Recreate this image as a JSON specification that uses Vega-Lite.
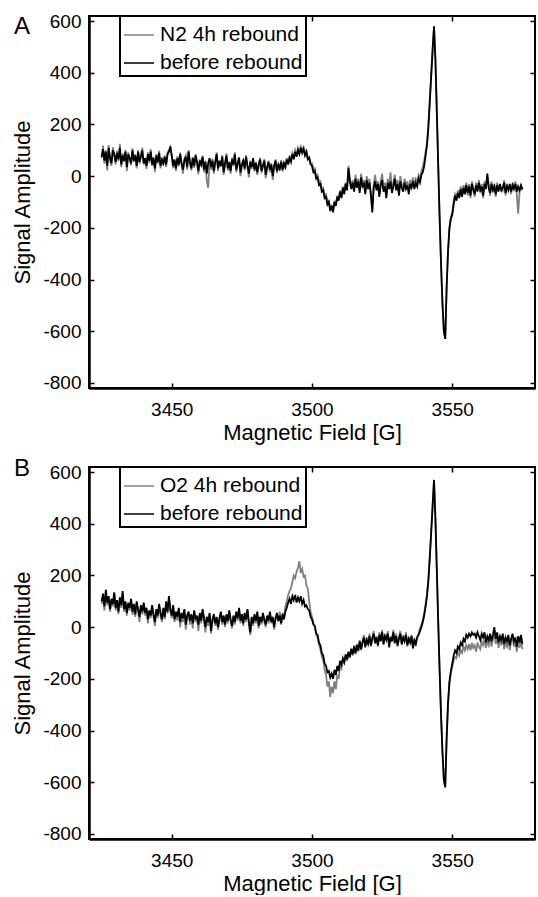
{
"$schema":"https://vega.github.io/schema/vega-lite/v6.json",
"autosize":{"type":"pad"},
"padding":{"left":10,"top":11,"right":1,"bottom":0},
"background":"white",
"spacing":12,
"config":{
 "font":"Liberation Sans",
 "view":{"stroke":"black","strokeWidth":2},
 "axis":{"labelFont":"Liberation Sans","titleFont":"Liberation Sans","labelColor":"black","titleColor":"black","titleFontWeight":"normal","labelFontSize":19,"titleFontSize":22,"tickColor":"black","tickWidth":1.5,"tickSize":-5,"domainColor":"black","domainWidth":2,"grid":false},
 "legend":{"strokeWidth":2},
 "title":{"font":"Liberation Sans","fontWeight":"normal","color":"black"}
},
"datasets":{
"a":[
{"x":3425,"n":70,"b":75},{"x":3425.5,"n":118,"b":105},{"x":3426,"n":48,"b":60},{"x":3426.5,"n":100,"b":95},{"x":3427,"n":22,"b":40},{"x":3427.5,"n":120,"b":110},{"x":3428,"n":60,"b":70},{"x":3428.5,"n":40,"b":50},{"x":3429,"n":112,"b":100},{"x":3429.5,"n":80,"b":85},
{"x":3430,"n":45,"b":55},{"x":3430.5,"n":98,"b":90},{"x":3431,"n":58,"b":65},{"x":3431.5,"n":125,"b":110},{"x":3432,"n":35,"b":45},{"x":3432.5,"n":88,"b":80},{"x":3433,"n":55,"b":60},{"x":3433.5,"n":102,"b":95},{"x":3434,"n":20,"b":35},{"x":3434.5,"n":92,"b":85},
{"x":3435,"n":65,"b":70},{"x":3435.5,"n":42,"b":50},{"x":3436,"n":108,"b":100},{"x":3436.5,"n":55,"b":60},{"x":3437,"n":85,"b":80},{"x":3437.5,"n":30,"b":40},{"x":3438,"n":100,"b":95},{"x":3438.5,"n":48,"b":55},{"x":3439,"n":82,"b":75},{"x":3439.5,"n":110,"b":100},
{"x":3440,"n":45,"b":50},{"x":3440.5,"n":60,"b":70},{"x":3441,"n":28,"b":40},{"x":3441.5,"n":92,"b":85},{"x":3442,"n":50,"b":60},{"x":3442.5,"n":105,"b":95},{"x":3443,"n":40,"b":45},{"x":3443.5,"n":75,"b":70},{"x":3444,"n":15,"b":30},{"x":3444.5,"n":86,"b":80},
{"x":3445,"n":48,"b":55},{"x":3445.5,"n":98,"b":90},{"x":3446,"n":30,"b":40},{"x":3446.5,"n":70,"b":65},{"x":3447,"n":42,"b":50},{"x":3447.5,"n":80,"b":75},{"x":3448,"n":35,"b":45},{"x":3448.5,"n":92,"b":85},{"x":3449,"n":100,"b":95},{"x":3449.5,"n":112,"b":115},
{"x":3450,"n":75,"b":80},{"x":3450.5,"n":30,"b":40},{"x":3451,"n":58,"b":65},{"x":3451.5,"n":20,"b":30},{"x":3452,"n":78,"b":70},{"x":3452.5,"n":38,"b":45},{"x":3453,"n":92,"b":85},{"x":3453.5,"n":45,"b":50},{"x":3454,"n":10,"b":25},{"x":3454.5,"n":68,"b":60},
{"x":3455,"n":80,"b":75},{"x":3455.5,"n":25,"b":35},{"x":3456,"n":100,"b":95},{"x":3456.5,"n":48,"b":55},{"x":3457,"n":22,"b":30},{"x":3457.5,"n":75,"b":70},{"x":3458,"n":32,"b":40},{"x":3458.5,"n":85,"b":80},{"x":3459,"n":50,"b":55},{"x":3459.5,"n":8,"b":20},
{"x":3460,"n":65,"b":60},{"x":3460.5,"n":38,"b":45},{"x":3461,"n":80,"b":75},{"x":3461.5,"n":15,"b":25},{"x":3462,"n":60,"b":55},{"x":3462.5,"n":-20,"b":10},{"x":3463,"n":-45,"b":50},{"x":3463.5,"n":65,"b":70},{"x":3464,"n":25,"b":35},{"x":3464.5,"n":68,"b":60},
{"x":3465,"n":10,"b":20},{"x":3465.5,"n":50,"b":55},{"x":3466,"n":92,"b":85},{"x":3466.5,"n":20,"b":30},{"x":3467,"n":55,"b":60},{"x":3467.5,"n":35,"b":40},{"x":3468,"n":82,"b":75},{"x":3468.5,"n":5,"b":15},{"x":3469,"n":45,"b":50},{"x":3469.5,"n":88,"b":80},
{"x":3470,"n":22,"b":30},{"x":3470.5,"n":48,"b":55},{"x":3471,"n":10,"b":20},{"x":3471.5,"n":72,"b":65},{"x":3472,"n":40,"b":45},{"x":3472.5,"n":92,"b":85},{"x":3473,"n":15,"b":25},{"x":3473.5,"n":45,"b":50},{"x":3474,"n":75,"b":70},{"x":3474.5,"n":0,"b":15},
{"x":3475,"n":38,"b":45},{"x":3475.5,"n":66,"b":60},{"x":3476,"n":22,"b":30},{"x":3476.5,"n":82,"b":75},{"x":3477,"n":35,"b":40},{"x":3477.5,"n":-5,"b":10},{"x":3478,"n":60,"b":55},{"x":3478.5,"n":28,"b":35},{"x":3479,"n":65,"b":70},{"x":3479.5,"n":18,"b":25},
{"x":3480,"n":55,"b":50},{"x":3480.5,"n":5,"b":15},{"x":3481,"n":40,"b":45},{"x":3481.5,"n":72,"b":65},{"x":3482,"n":12,"b":20},{"x":3482.5,"n":35,"b":40},{"x":3483,"n":66,"b":60},{"x":3483.5,"n":-8,"b":5},{"x":3484,"n":30,"b":35},{"x":3484.5,"n":60,"b":55},
{"x":3485,"n":15,"b":25},{"x":3485.5,"n":50,"b":45},{"x":3486,"n":-15,"b":0},{"x":3486.5,"n":35,"b":40},{"x":3487,"n":65,"b":60},{"x":3487.5,"n":12,"b":20},{"x":3488,"n":40,"b":45},{"x":3488.5,"n":22,"b":30},{"x":3489,"n":62,"b":55},{"x":3489.5,"n":18,"b":25},
{"x":3490,"n":55,"b":50},{"x":3490.5,"n":28,"b":35},{"x":3491,"n":70,"b":65},{"x":3491.5,"n":50,"b":45},{"x":3492,"n":78,"b":70},{"x":3492.5,"n":60,"b":55},{"x":3493,"n":90,"b":85},{"x":3493.5,"n":75,"b":65},{"x":3494,"n":100,"b":95},{"x":3494.5,"n":82,"b":75},
{"x":3495,"n":110,"b":100},{"x":3495.5,"n":95,"b":85},{"x":3496,"n":115,"b":110},{"x":3496.5,"n":100,"b":90},{"x":3497,"n":112,"b":105},{"x":3497.5,"n":90,"b":80},{"x":3498,"n":98,"b":95},{"x":3498.5,"n":70,"b":65},{"x":3499,"n":75,"b":70},{"x":3499.5,"n":50,"b":45},
{"x":3500,"n":50,"b":40},{"x":3500.5,"n":25,"b":15},{"x":3501,"n":30,"b":20},{"x":3501.5,"n":0,"b":-10},{"x":3502,"n":5,"b":-5},{"x":3502.5,"n":-25,"b":-35},{"x":3503,"n":-20,"b":-30},{"x":3503.5,"n":-50,"b":-60},{"x":3504,"n":-45,"b":-55},{"x":3504.5,"n":-75,"b":-85},
{"x":3505,"n":-70,"b":-80},{"x":3505.5,"n":-100,"b":-110},{"x":3506,"n":-95,"b":-100},{"x":3506.5,"n":-130,"b":-135},{"x":3507,"n":-110,"b":-115},{"x":3507.5,"n":-135,"b":-140},{"x":3508,"n":-95,"b":-100},{"x":3508.5,"n":-110,"b":-115},{"x":3509,"n":-75,"b":-80},{"x":3509.5,"n":-90,"b":-95},
{"x":3510,"n":-55,"b":-60},{"x":3510.5,"n":-80,"b":-85},{"x":3511,"n":-40,"b":-45},{"x":3511.5,"n":-60,"b":-70},{"x":3512,"n":-25,"b":-30},{"x":3512.5,"n":-45,"b":-55},{"x":3513,"n":40,"b":30},{"x":3513.5,"n":-10,"b":-20},{"x":3514,"n":-40,"b":-50},{"x":3514.5,"n":-15,"b":-25},
{"x":3515,"n":-50,"b":-60},{"x":3515.5,"n":5,"b":-10},{"x":3516,"n":-30,"b":-45},{"x":3516.5,"n":-10,"b":-20},{"x":3517,"n":-55,"b":-65},{"x":3517.5,"n":10,"b":-5},{"x":3518,"n":-30,"b":-40},{"x":3518.5,"n":-15,"b":-30},{"x":3519,"n":-60,"b":-70},{"x":3519.5,"n":0,"b":-15},
{"x":3520,"n":-35,"b":-50},{"x":3520.5,"n":-10,"b":-25},{"x":3521,"n":-65,"b":-75},{"x":3521.5,"n":-125,"b":-140},{"x":3522,"n":-30,"b":-45},{"x":3522.5,"n":5,"b":-20},{"x":3523,"n":-40,"b":-55},{"x":3523.5,"n":-20,"b":-30},{"x":3524,"n":-70,"b":-80},{"x":3524.5,"n":-20,"b":-35},
{"x":3525,"n":10,"b":-15},{"x":3525.5,"n":-45,"b":-60},{"x":3526,"n":-25,"b":-40},{"x":3526.5,"n":-75,"b":-85},{"x":3527,"n":-10,"b":-25},{"x":3527.5,"n":-35,"b":-50},{"x":3528,"n":15,"b":-20},{"x":3528.5,"n":-50,"b":-65},{"x":3529,"n":-30,"b":-40},{"x":3529.5,"n":5,"b":-10},
{"x":3530,"n":-40,"b":-55},{"x":3530.5,"n":-15,"b":-30},{"x":3531,"n":-60,"b":-75},{"x":3531.5,"n":0,"b":-20},{"x":3532,"n":-30,"b":-45},{"x":3532.5,"n":-50,"b":-60},{"x":3533,"n":-10,"b":-25},{"x":3533.5,"n":-35,"b":-50},{"x":3534,"n":-20,"b":-35},{"x":3534.5,"n":-55,"b":-70},
{"x":3535,"n":-15,"b":-30},{"x":3535.5,"n":-30,"b":-45},{"x":3536,"n":-5,"b":-20},{"x":3536.5,"n":-35,"b":-50},{"x":3537,"n":-10,"b":-25},{"x":3537.5,"n":-20,"b":-40},{"x":3538,"n":5,"b":-10},{"x":3538.5,"n":-10,"b":-25},{"x":3539,"n":20,"b":5},{"x":3539.5,"n":35,"b":15},
{"x":3540,"n":60,"b":40},{"x":3540.5,"n":95,"b":80},{"x":3541,"n":130,"b":120},{"x":3541.5,"n":200,"b":190},{"x":3542,"n":295,"b":290},{"x":3542.5,"n":390,"b":390},{"x":3543,"n":490,"b":490},{"x":3543.5,"n":580,"b":580},{"x":3544,"n":450,"b":450},{"x":3544.5,"n":250,"b":250},
{"x":3545,"n":40,"b":40},{"x":3545.5,"n":-160,"b":-160},{"x":3546,"n":-340,"b":-340},{"x":3546.5,"n":-490,"b":-490},{"x":3547,"n":-600,"b":-600},{"x":3547.5,"n":-630,"b":-630},{"x":3548,"n":-430,"b":-430},{"x":3548.5,"n":-290,"b":-290},{"x":3549,"n":-200,"b":-200},{"x":3549.5,"n":-160,"b":-165},
{"x":3550,"n":-140,"b":-150},{"x":3550.5,"n":-95,"b":-110},{"x":3551,"n":-70,"b":-75},{"x":3551.5,"n":-85,"b":-95},{"x":3552,"n":-55,"b":-65},{"x":3552.5,"n":-75,"b":-85},{"x":3553,"n":-40,"b":-50},{"x":3553.5,"n":-70,"b":-80},{"x":3554,"n":-35,"b":-45},{"x":3554.5,"n":-60,"b":-70},
{"x":3555,"n":-25,"b":-35},{"x":3555.5,"n":-75,"b":-65},{"x":3556,"n":-30,"b":-40},{"x":3556.5,"n":-85,"b":-75},{"x":3557,"n":-20,"b":-30},{"x":3557.5,"n":-45,"b":-55},{"x":3558,"n":-80,"b":-70},{"x":3558.5,"n":-25,"b":-35},{"x":3559,"n":-50,"b":-60},{"x":3559.5,"n":-15,"b":-25},
{"x":3560,"n":-60,"b":-55},{"x":3560.5,"n":-30,"b":-40},{"x":3561,"n":-85,"b":-75},{"x":3561.5,"n":-20,"b":-30},{"x":3562,"n":-40,"b":-50},{"x":3562.5,"n":5,"b":10},{"x":3563,"n":-35,"b":-45},{"x":3563.5,"n":-75,"b":-65},{"x":3564,"n":-20,"b":-30},{"x":3564.5,"n":-60,"b":-55},
{"x":3565,"n":-30,"b":-40},{"x":3565.5,"n":-80,"b":-70},{"x":3566,"n":-25,"b":-35},{"x":3566.5,"n":-50,"b":-60},{"x":3567,"n":-40,"b":-30},{"x":3567.5,"n":-45,"b":-55},{"x":3568,"n":-55,"b":-45},{"x":3568.5,"n":-15,"b":-25},{"x":3569,"n":-75,"b":-65},{"x":3569.5,"n":-30,"b":-40},
{"x":3570,"n":-45,"b":-55},{"x":3570.5,"n":-40,"b":-30},{"x":3571,"n":-70,"b":-60},{"x":3571.5,"n":-25,"b":-35},{"x":3572,"n":-45,"b":-50},{"x":3572.5,"n":-20,"b":-30},{"x":3573,"n":-70,"b":-60},{"x":3573.5,"n":-145,"b":-40},{"x":3574,"n":-60,"b":-55},{"x":3574.5,"n":-40,"b":-35},
{"x":3575,"n":-55,"b":-50}
],
"b":[
{"x":3425,"o":90,"b":100},{"x":3425.5,"o":120,"b":130},{"x":3426,"o":65,"b":80},{"x":3426.5,"o":135,"b":145},{"x":3427,"o":85,"b":95},{"x":3427.5,"o":110,"b":120},{"x":3428,"o":60,"b":70},{"x":3428.5,"o":100,"b":110},{"x":3429,"o":80,"b":90},{"x":3429.5,"o":130,"b":135},
{"x":3430,"o":65,"b":75},{"x":3430.5,"o":95,"b":105},{"x":3431,"o":50,"b":60},{"x":3431.5,"o":108,"b":115},{"x":3432,"o":75,"b":85},{"x":3432.5,"o":130,"b":140},{"x":3433,"o":60,"b":70},{"x":3433.5,"o":92,"b":100},{"x":3434,"o":45,"b":55},{"x":3434.5,"o":88,"b":95},
{"x":3435,"o":65,"b":75},{"x":3435.5,"o":100,"b":110},{"x":3436,"o":48,"b":60},{"x":3436.5,"o":82,"b":90},{"x":3437,"o":40,"b":50},{"x":3437.5,"o":95,"b":100},{"x":3438,"o":62,"b":70},{"x":3438.5,"o":20,"b":40},{"x":3439,"o":78,"b":85},{"x":3439.5,"o":50,"b":60},
{"x":3440,"o":88,"b":95},{"x":3440.5,"o":45,"b":55},{"x":3441,"o":68,"b":75},{"x":3441.5,"o":15,"b":30},{"x":3442,"o":60,"b":65},{"x":3442.5,"o":35,"b":45},{"x":3443,"o":80,"b":85},{"x":3443.5,"o":40,"b":50},{"x":3444,"o":5,"b":20},{"x":3444.5,"o":65,"b":70},
{"x":3445,"o":35,"b":45},{"x":3445.5,"o":85,"b":90},{"x":3446,"o":45,"b":55},{"x":3446.5,"o":20,"b":30},{"x":3447,"o":70,"b":75},{"x":3447.5,"o":30,"b":40},{"x":3448,"o":95,"b":100},{"x":3448.5,"o":52,"b":60},{"x":3449,"o":115,"b":120},{"x":3449.5,"o":60,"b":70},
{"x":3450,"o":35,"b":45},{"x":3450.5,"o":80,"b":85},{"x":3451,"o":20,"b":30},{"x":3451.5,"o":55,"b":60},{"x":3452,"o":25,"b":40},{"x":3452.5,"o":70,"b":75},{"x":3453,"o":0,"b":20},{"x":3453.5,"o":45,"b":55},{"x":3454,"o":20,"b":35},{"x":3454.5,"o":65,"b":70},
{"x":3455,"o":-10,"b":10},{"x":3455.5,"o":35,"b":45},{"x":3456,"o":50,"b":60},{"x":3456.5,"o":10,"b":25},{"x":3457,"o":40,"b":50},{"x":3457.5,"o":-5,"b":15},{"x":3458,"o":60,"b":65},{"x":3458.5,"o":20,"b":30},{"x":3459,"o":35,"b":45},{"x":3459.5,"o":-15,"b":10},
{"x":3460,"o":45,"b":55},{"x":3460.5,"o":15,"b":25},{"x":3461,"o":65,"b":70},{"x":3461.5,"o":25,"b":35},{"x":3462,"o":-20,"b":0},{"x":3462.5,"o":30,"b":40},{"x":3463,"o":5,"b":20},{"x":3463.5,"o":50,"b":55},{"x":3464,"o":-25,"b":-15},{"x":3464.5,"o":20,"b":30},
{"x":3465,"o":45,"b":50},{"x":3465.5,"o":5,"b":15},{"x":3466,"o":30,"b":40},{"x":3466.5,"o":-10,"b":0},{"x":3467,"o":25,"b":35},{"x":3467.5,"o":55,"b":60},{"x":3468,"o":10,"b":20},{"x":3468.5,"o":40,"b":45},{"x":3469,"o":0,"b":10},{"x":3469.5,"o":45,"b":50},
{"x":3470,"o":15,"b":25},{"x":3470.5,"o":60,"b":65},{"x":3471,"o":20,"b":30},{"x":3471.5,"o":-5,"b":5},{"x":3472,"o":40,"b":45},{"x":3472.5,"o":10,"b":20},{"x":3473,"o":55,"b":60},{"x":3473.5,"o":25,"b":35},{"x":3474,"o":70,"b":75},{"x":3474.5,"o":15,"b":25},
{"x":3475,"o":45,"b":50},{"x":3475.5,"o":5,"b":15},{"x":3476,"o":50,"b":55},{"x":3476.5,"o":20,"b":30},{"x":3477,"o":65,"b":70},{"x":3477.5,"o":10,"b":20},{"x":3478,"o":-30,"b":-20},{"x":3478.5,"o":35,"b":40},{"x":3479,"o":5,"b":15},{"x":3479.5,"o":45,"b":50},
{"x":3480,"o":15,"b":25},{"x":3480.5,"o":55,"b":60},{"x":3481,"o":-5,"b":5},{"x":3481.5,"o":30,"b":40},{"x":3482,"o":10,"b":20},{"x":3482.5,"o":50,"b":55},{"x":3483,"o":20,"b":30},{"x":3483.5,"o":0,"b":10},{"x":3484,"o":40,"b":45},{"x":3484.5,"o":15,"b":25},
{"x":3485,"o":55,"b":60},{"x":3485.5,"o":15,"b":20},{"x":3486,"o":35,"b":40},{"x":3486.5,"o":-10,"b":0},{"x":3487,"o":30,"b":35},{"x":3487.5,"o":50,"b":55},{"x":3488,"o":20,"b":25},{"x":3488.5,"o":60,"b":45},{"x":3489,"o":10,"b":15},{"x":3489.5,"o":55,"b":50},
{"x":3490,"o":35,"b":30},{"x":3490.5,"o":80,"b":60},{"x":3491,"o":100,"b":75},{"x":3491.5,"o":125,"b":95},{"x":3492,"o":140,"b":110},{"x":3492.5,"o":150,"b":90},{"x":3493,"o":175,"b":120},{"x":3493.5,"o":200,"b":105},{"x":3494,"o":190,"b":125},{"x":3494.5,"o":215,"b":95},
{"x":3495,"o":230,"b":115},{"x":3495.5,"o":255,"b":100},{"x":3496,"o":210,"b":120},{"x":3496.5,"o":225,"b":90},{"x":3497,"o":195,"b":105},{"x":3497.5,"o":200,"b":80},{"x":3498,"o":160,"b":85},{"x":3498.5,"o":150,"b":70},{"x":3499,"o":100,"b":65},{"x":3499.5,"o":60,"b":40},
{"x":3500,"o":40,"b":30},{"x":3500.5,"o":15,"b":10},{"x":3501,"o":0,"b":5},{"x":3501.5,"o":-30,"b":-25},{"x":3502,"o":-40,"b":-30},{"x":3502.5,"o":-70,"b":-60},{"x":3503,"o":-85,"b":-70},{"x":3503.5,"o":-115,"b":-100},{"x":3504,"o":-130,"b":-110},{"x":3504.5,"o":-165,"b":-140},
{"x":3505,"o":-185,"b":-150},{"x":3505.5,"o":-230,"b":-175},{"x":3506,"o":-210,"b":-170},{"x":3506.5,"o":-270,"b":-195},{"x":3507,"o":-230,"b":-180},{"x":3507.5,"o":-255,"b":-200},{"x":3508,"o":-210,"b":-165},{"x":3508.5,"o":-240,"b":-185},{"x":3509,"o":-185,"b":-150},{"x":3509.5,"o":-200,"b":-170},
{"x":3510,"o":-150,"b":-130},{"x":3510.5,"o":-160,"b":-145},{"x":3511,"o":-130,"b":-120},{"x":3511.5,"o":-140,"b":-135},{"x":3512,"o":-110,"b":-105},{"x":3512.5,"o":-130,"b":-125},{"x":3513,"o":-100,"b":-95},{"x":3513.5,"o":-120,"b":-115},{"x":3514,"o":-80,"b":-85},{"x":3514.5,"o":-110,"b":-105},
{"x":3515,"o":-70,"b":-75},{"x":3515.5,"o":-105,"b":-100},{"x":3516,"o":-65,"b":-70},{"x":3516.5,"o":-95,"b":-90},{"x":3517,"o":-50,"b":-55},{"x":3517.5,"o":-90,"b":-85},{"x":3518,"o":-55,"b":-60},{"x":3518.5,"o":-30,"b":-40},{"x":3519,"o":-80,"b":-75},{"x":3519.5,"o":-40,"b":-50},
{"x":3520,"o":-60,"b":-65},{"x":3520.5,"o":-25,"b":-35},{"x":3521,"o":-75,"b":-70},{"x":3521.5,"o":-40,"b":-45},{"x":3522,"o":-15,"b":-25},{"x":3522.5,"o":-65,"b":-60},{"x":3523,"o":-35,"b":-40},{"x":3523.5,"o":-75,"b":-70},{"x":3524,"o":-20,"b":-30},{"x":3524.5,"o":-50,"b":-55},
{"x":3525,"o":-10,"b":-20},{"x":3525.5,"o":-70,"b":-65},{"x":3526,"o":-30,"b":-35},{"x":3526.5,"o":-45,"b":-50},{"x":3527,"o":-15,"b":-25},{"x":3527.5,"o":-80,"b":-75},{"x":3528,"o":-35,"b":-40},{"x":3528.5,"o":-50,"b":-55},{"x":3529,"o":-10,"b":-20},{"x":3529.5,"o":-65,"b":-60},
{"x":3530,"o":-25,"b":-35},{"x":3530.5,"o":-75,"b":-70},{"x":3531,"o":-40,"b":-45},{"x":3531.5,"o":-15,"b":-25},{"x":3532,"o":-70,"b":-65},{"x":3532.5,"o":-35,"b":-40},{"x":3533,"o":-50,"b":-55},{"x":3533.5,"o":-20,"b":-30},{"x":3534,"o":-75,"b":-70},{"x":3534.5,"o":-40,"b":-45},
{"x":3535,"o":-55,"b":-60},{"x":3535.5,"o":-30,"b":-35},{"x":3536,"o":-85,"b":-80},{"x":3536.5,"o":-45,"b":-50},{"x":3537,"o":-70,"b":-65},{"x":3537.5,"o":-35,"b":-40},{"x":3538,"o":-25,"b":-30},{"x":3538.5,"o":-5,"b":-15},{"x":3539,"o":10,"b":0},{"x":3539.5,"o":30,"b":20},
{"x":3540,"o":55,"b":45},{"x":3540.5,"o":90,"b":80},{"x":3541,"o":130,"b":120},{"x":3541.5,"o":190,"b":180},{"x":3542,"o":275,"b":270},{"x":3542.5,"o":370,"b":370},{"x":3543,"o":470,"b":470},{"x":3543.5,"o":570,"b":570},{"x":3544,"o":420,"b":420},{"x":3544.5,"o":220,"b":220},
{"x":3545,"o":20,"b":20},{"x":3545.5,"o":-170,"b":-170},{"x":3546,"o":-340,"b":-340},{"x":3546.5,"o":-480,"b":-480},{"x":3547,"o":-590,"b":-590},{"x":3547.5,"o":-620,"b":-620},{"x":3548,"o":-430,"b":-430},{"x":3548.5,"o":-300,"b":-290},{"x":3549,"o":-220,"b":-210},{"x":3549.5,"o":-180,"b":-170},
{"x":3550,"o":-155,"b":-140},{"x":3550.5,"o":-130,"b":-110},{"x":3551,"o":-115,"b":-90},{"x":3551.5,"o":-120,"b":-100},{"x":3552,"o":-95,"b":-75},{"x":3552.5,"o":-110,"b":-85},{"x":3553,"o":-90,"b":-60},{"x":3553.5,"o":-100,"b":-70},{"x":3554,"o":-75,"b":-45},{"x":3554.5,"o":-90,"b":-55},
{"x":3555,"o":-70,"b":-30},{"x":3555.5,"o":-85,"b":-40},{"x":3556,"o":-65,"b":-25},{"x":3556.5,"o":-90,"b":-35},{"x":3557,"o":-60,"b":-20},{"x":3557.5,"o":-80,"b":-30},{"x":3558,"o":-70,"b":-25},{"x":3558.5,"o":-95,"b":-40},{"x":3559,"o":-60,"b":-20},{"x":3559.5,"o":-75,"b":-35},
{"x":3560,"o":-85,"b":-50},{"x":3560.5,"o":-55,"b":-25},{"x":3561,"o":-70,"b":-40},{"x":3561.5,"o":-50,"b":-20},{"x":3562,"o":-80,"b":-60},{"x":3562.5,"o":-55,"b":-35},{"x":3563,"o":-70,"b":-50},{"x":3563.5,"o":-40,"b":-25},{"x":3564,"o":-75,"b":-55},{"x":3564.5,"o":-45,"b":-30},
{"x":3565,"o":-20,"b":0},{"x":3565.5,"o":-65,"b":-45},{"x":3566,"o":-40,"b":-20},{"x":3566.5,"o":-80,"b":-60},{"x":3567,"o":-50,"b":-35},{"x":3567.5,"o":-70,"b":-50},{"x":3568,"o":-45,"b":-25},{"x":3568.5,"o":-85,"b":-65},{"x":3569,"o":-60,"b":-40},{"x":3569.5,"o":-75,"b":-55},
{"x":3570,"o":-50,"b":-30},{"x":3570.5,"o":-90,"b":-70},{"x":3571,"o":-55,"b":-45},{"x":3571.5,"o":-40,"b":-25},{"x":3572,"o":-75,"b":-55},{"x":3572.5,"o":-60,"b":-40},{"x":3573,"o":-95,"b":-75},{"x":3573.5,"o":-55,"b":-35},{"x":3574,"o":-80,"b":-60},{"x":3574.5,"o":-50,"b":-30},
{"x":3575,"o":-85,"b":-65}
]
},
"resolve":{"scale":{"color":"independent"},"legend":{"color":"independent"}},
"vconcat":[
{
 "width":446,"height":372,
 "title":{"text":"A","anchor":"start","frame":"bounds","fontSize":24,"baseline":"alphabetic","offset":-46,"dx":2},
 "data":{"name":"a"},
 "resolve":{"axis":{"x":"independent","y":"independent"}},
 "layer":[
  {"mark":{"type":"line","strokeWidth":1.8},
   "encoding":{
    "x":{"field":"x","type":"quantitative","scale":{"domain":[3420.5,3579.5],"nice":false,"zero":false},"axis":{"orient":"bottom","title":"Magnetic Field [G]","values":[3450,3500,3550],"labelExpr":"toString(datum.value)","labelPadding":17,"titlePadding":3,"domainWidth":2.5}},
    "y":{"field":"n","type":"quantitative","scale":{"domain":[-820,620],"nice":false,"zero":false},"axis":{"orient":"left","title":"Signal Amplitude","values":[-800,-600,-400,-200,0,200,400,600],"labelExpr":"toString(datum.value)","labelPadding":13,"titlePadding":8,"domainWidth":2.5}},
    "color":{"datum":"N2 4h rebound","type":"nominal","scale":{"domain":["N2 4h rebound","before rebound"],"range":["#808080","#000000"]},
      "legend":{"title":null,"orient":"none","legendX":31,"legendY":0,"strokeColor":"black","fillColor":"white","padding":3,"symbolType":"stroke","symbolSize":900,"symbolStrokeWidth":1.5,"labelFontSize":21,"labelColor":"black","labelFont":"Liberation Sans","labelOffset":5,"rowPadding":2}}
   }},
  {"mark":{"type":"line","strokeWidth":1.8},
   "encoding":{
    "x":{"field":"x","type":"quantitative","scale":{"domain":[3420.5,3579.5],"nice":false,"zero":false},"axis":{"orient":"top","title":null,"values":[3450,3500,3550],"labels":false,"domain":false,"minExtent":0,"maxExtent":0}},
    "y":{"field":"b","type":"quantitative","scale":{"domain":[-820,620],"nice":false,"zero":false},"axis":{"orient":"right","title":null,"values":[-800,-600,-400,-200,0,200,400,600],"labels":false,"domain":false,"minExtent":0,"maxExtent":0}},
    "color":{"datum":"before rebound","type":"nominal"}
   }}
 ]
},
{
 "width":446,"height":372,
 "title":{"text":"B","anchor":"start","frame":"bounds","fontSize":24,"baseline":"alphabetic","offset":-37,"dx":2},
 "data":{"name":"b"},
 "resolve":{"axis":{"x":"independent","y":"independent"}},
 "layer":[
  {"mark":{"type":"line","strokeWidth":1.8},
   "encoding":{
    "x":{"field":"x","type":"quantitative","scale":{"domain":[3420.5,3579.5],"nice":false,"zero":false},"axis":{"orient":"bottom","title":"Magnetic Field [G]","values":[3450,3500,3550],"labelExpr":"toString(datum.value)","labelPadding":17,"titlePadding":3,"domainWidth":2.5}},
    "y":{"field":"o","type":"quantitative","scale":{"domain":[-820,620],"nice":false,"zero":false},"axis":{"orient":"left","title":"Signal Amplitude","values":[-800,-600,-400,-200,0,200,400,600],"labelExpr":"toString(datum.value)","labelPadding":13,"titlePadding":8,"domainWidth":2.5}},
    "color":{"datum":"O2 4h rebound","type":"nominal","scale":{"domain":["O2 4h rebound","before rebound"],"range":["#808080","#000000"]},
      "legend":{"title":null,"orient":"none","legendX":31,"legendY":0,"strokeColor":"black","fillColor":"white","padding":3,"symbolType":"stroke","symbolSize":900,"symbolStrokeWidth":1.5,"labelFontSize":21,"labelColor":"black","labelFont":"Liberation Sans","labelOffset":5,"rowPadding":2}}
   }},
  {"mark":{"type":"line","strokeWidth":1.8},
   "encoding":{
    "x":{"field":"x","type":"quantitative","scale":{"domain":[3420.5,3579.5],"nice":false,"zero":false},"axis":{"orient":"top","title":null,"values":[3450,3500,3550],"labels":false,"domain":false,"minExtent":0,"maxExtent":0}},
    "y":{"field":"b","type":"quantitative","scale":{"domain":[-820,620],"nice":false,"zero":false},"axis":{"orient":"right","title":null,"values":[-800,-600,-400,-200,0,200,400,600],"labels":false,"domain":false,"minExtent":0,"maxExtent":0}},
    "color":{"datum":"before rebound","type":"nominal"}
   }}
 ]
}
]
}
